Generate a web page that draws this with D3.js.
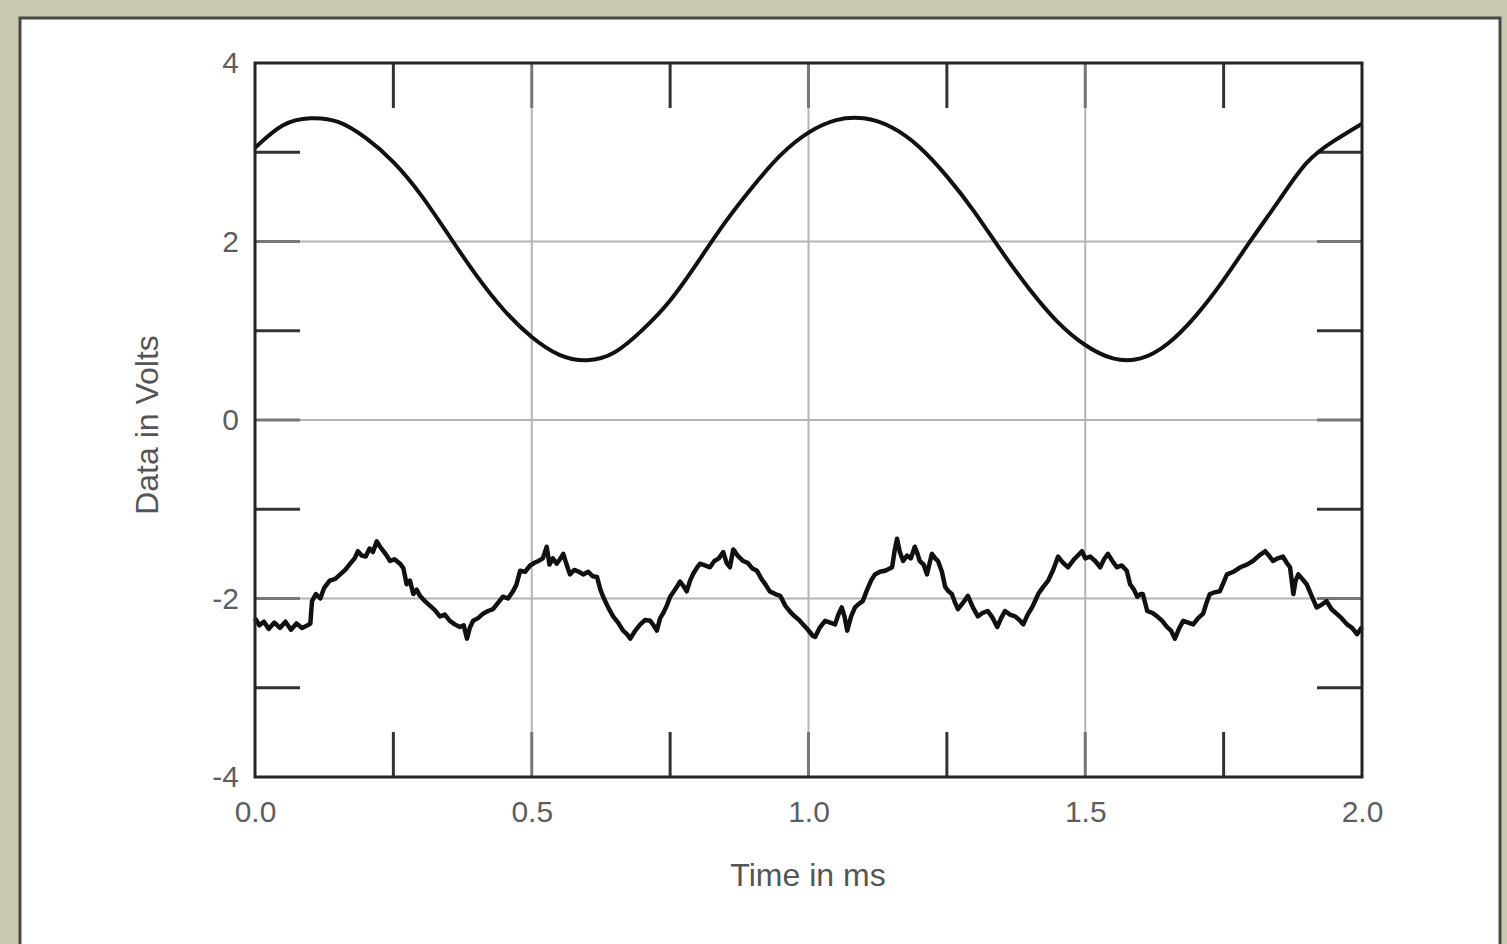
<!DOCTYPE html>
<html>
<head>
<meta charset="utf-8">
<script src="https://cdn.jsdelivr.net/npm/d3@7"></script>
<style>
  html, body { margin: 0; padding: 0; background: #c9c7b0; }
  svg { display: block; }
</style>
</head>
<body>
<div id="chart"></div>
<script>
// axis ticks
var xTicks = [0, 0.5, 1.0, 1.5, 2.0];
var yTicks = [-4, -2, 0, 2, 4];
var xMinor = [0.25, 0.75, 1.25, 1.75];
var yMinor = [-3, -1, 1, 3];

// upper trace (clean sine), read every 0.05 ms
var sineTime = [0, 0.05, 0.1, 0.15, 0.2, 0.25, 0.3, 0.35, 0.4, 0.45, 0.5, 0.55, 0.6, 0.65, 0.7, 0.75, 0.8, 0.85, 0.9, 0.95,
  1.0, 1.05, 1.1, 1.15, 1.2, 1.25, 1.3, 1.35, 1.4, 1.45, 1.5, 1.55, 1.6, 1.65, 1.7, 1.75, 1.8, 1.85, 1.9, 1.95, 2.0];
var sineVolts = [3.05, 3.3, 3.38, 3.34, 3.16, 2.89, 2.52, 2.07, 1.62, 1.23, 0.93, 0.73, 0.67, 0.76, 1.01, 1.34, 1.77, 2.22, 2.62, 2.97,
  3.22, 3.36, 3.38, 3.28, 3.06, 2.73, 2.33, 1.88, 1.46, 1.1, 0.84, 0.69, 0.69, 0.86, 1.17, 1.57, 2.02, 2.46, 2.88, 3.13, 3.32];

// lower trace (noisy)
var noisyTime = [0.000, 0.008, 0.016, 0.025, 0.035, 0.045, 0.055, 0.065, 0.075, 0.085, 0.095, 0.100, 0.103, 0.110, 0.118, 0.125,
  0.135, 0.145, 0.154, 0.163, 0.172, 0.180, 0.186, 0.193, 0.200, 0.207, 0.213, 0.220, 0.226, 0.232, 0.238, 0.244, 0.252, 0.262,
  0.268, 0.274, 0.280, 0.286, 0.292, 0.298, 0.307, 0.316, 0.325, 0.334, 0.343, 0.352, 0.361, 0.370, 0.377, 0.383, 0.388, 0.394,
  0.403, 0.412, 0.421, 0.430, 0.439, 0.448, 0.457, 0.466, 0.472, 0.479, 0.488, 0.497, 0.505, 0.512, 0.520, 0.527, 0.532, 0.538,
  0.545, 0.551, 0.557, 0.563, 0.569, 0.577, 0.585, 0.593, 0.602, 0.610, 0.618, 0.624, 0.629, 0.638, 0.647, 0.656, 0.665, 0.672,
  0.678, 0.687, 0.696, 0.705, 0.714, 0.720, 0.726, 0.732, 0.737, 0.744, 0.750, 0.759, 0.768, 0.774, 0.780, 0.786, 0.792, 0.798,
  0.804, 0.813, 0.822, 0.830, 0.838, 0.846, 0.852, 0.858, 0.864, 0.872, 0.882, 0.890, 0.898, 0.907, 0.915, 0.923, 0.930, 0.940,
  0.949, 0.958, 0.967, 0.975, 0.983, 0.990, 0.999, 1.008, 1.012, 1.020, 1.030, 1.039, 1.048, 1.054, 1.060, 1.065, 1.070, 1.077,
  1.084, 1.091, 1.098, 1.106, 1.113, 1.120, 1.129, 1.138, 1.145, 1.151, 1.156, 1.160, 1.165, 1.171, 1.178, 1.185, 1.192, 1.197,
  1.201, 1.208, 1.214, 1.219, 1.223, 1.229, 1.234, 1.241, 1.247, 1.253, 1.259, 1.265, 1.270, 1.279, 1.288, 1.297, 1.306, 1.315,
  1.324, 1.333, 1.341, 1.348, 1.355, 1.364, 1.373, 1.381, 1.388, 1.396, 1.404, 1.410, 1.415, 1.424, 1.433, 1.442, 1.451, 1.460,
  1.469, 1.480, 1.494, 1.500, 1.509, 1.518, 1.527, 1.534, 1.541, 1.549, 1.557, 1.566, 1.575, 1.581, 1.588, 1.594, 1.600, 1.604,
  1.612, 1.621, 1.630, 1.639, 1.648, 1.655, 1.662, 1.670, 1.677, 1.686, 1.695, 1.704, 1.713, 1.719, 1.725, 1.734, 1.743, 1.750,
  1.756, 1.768, 1.780, 1.792, 1.803, 1.814, 1.825, 1.832, 1.839, 1.848, 1.857, 1.864, 1.870, 1.876, 1.880, 1.885, 1.892, 1.900,
  1.909, 1.918, 1.927, 1.936, 1.945, 1.954, 1.963, 1.973, 1.982, 1.991, 2.000];
var noisyVolts = [-2.22, -2.30, -2.26, -2.34, -2.27, -2.33, -2.26, -2.35, -2.28, -2.33, -2.30, -2.28, -2.03, -1.95, -2.00, -1.88,
  -1.80, -1.78, -1.73, -1.68, -1.61, -1.55, -1.47, -1.52, -1.53, -1.44, -1.48, -1.36, -1.42, -1.47, -1.52, -1.58, -1.56, -1.61,
  -1.66, -1.84, -1.80, -1.95, -1.90, -1.97, -2.03, -2.08, -2.13, -2.20, -2.18, -2.25, -2.29, -2.32, -2.30, -2.45, -2.33, -2.25,
  -2.22, -2.17, -2.14, -2.12, -2.05, -1.98, -2.00, -1.92, -1.85, -1.69, -1.70, -1.63, -1.60, -1.58, -1.55, -1.42, -1.62, -1.55,
  -1.61, -1.56, -1.50, -1.62, -1.73, -1.68, -1.70, -1.73, -1.70, -1.75, -1.76, -1.90, -1.98, -2.10, -2.20, -2.27, -2.36, -2.40,
  -2.45, -2.36, -2.29, -2.24, -2.25, -2.30, -2.36, -2.22, -2.17, -2.08, -1.98, -1.90, -1.81, -1.86, -1.92, -1.80, -1.72, -1.66,
  -1.61, -1.63, -1.65, -1.58, -1.55, -1.48, -1.60, -1.65, -1.45, -1.52, -1.58, -1.60, -1.66, -1.69, -1.78, -1.85, -1.92, -1.95,
  -1.97, -2.08, -2.15, -2.20, -2.24, -2.29, -2.35, -2.42, -2.43, -2.33, -2.25, -2.27, -2.29, -2.18, -2.10, -2.20, -2.36, -2.20,
  -2.10, -2.06, -2.03, -1.90, -1.80, -1.73, -1.70, -1.69, -1.67, -1.65, -1.45, -1.33, -1.48, -1.58, -1.52, -1.55, -1.42, -1.50,
  -1.58, -1.62, -1.73, -1.60, -1.50, -1.55, -1.58, -1.70, -1.87, -1.92, -1.95, -2.05, -2.12, -2.05, -1.97, -2.10, -2.20, -2.16,
  -2.14, -2.22, -2.32, -2.22, -2.14, -2.18, -2.20, -2.24, -2.29, -2.18, -2.10, -2.02, -1.95, -1.87, -1.80, -1.68, -1.53, -1.60,
  -1.65, -1.56, -1.47, -1.55, -1.53, -1.58, -1.65, -1.56, -1.50, -1.58, -1.65, -1.63, -1.69, -1.84, -1.90, -1.98, -1.95, -1.95,
  -2.14, -2.16, -2.20, -2.25, -2.32, -2.36, -2.45, -2.33, -2.25, -2.27, -2.29, -2.22, -2.17, -2.05, -1.95, -1.93, -1.92, -1.82,
  -1.73, -1.70, -1.65, -1.62, -1.58, -1.52, -1.47, -1.52, -1.58, -1.55, -1.53, -1.60, -1.65, -1.95, -1.80, -1.73, -1.78, -1.84,
  -1.97, -2.10, -2.07, -2.03, -2.12, -2.17, -2.22, -2.29, -2.33, -2.40, -2.32];

var W = 1507, H = 944;
var plotL = 255, plotR = 1362, plotT = 63, plotB = 777;

var svg = d3.select("#chart").append("svg")
    .attr("width", W)
    .attr("height", H);

// page background and white panel
svg.append("rect")
    .attr("x", 0).attr("y", 0)
    .attr("width", W).attr("height", H)
    .style("fill", "#c9c7b0");

svg.append("rect")
    .attr("x", 20).attr("y", 18)
    .attr("width", 1480).attr("height", 950)
    .style("fill", "#ffffff")
    .style("stroke", "#4a4a44")
    .style("stroke-width", "3px");

var x = d3.scaleLinear().domain([0, 2]).range([plotL, plotR]);
var y = d3.scaleLinear().domain([-4, 4]).range([plotB, plotT]);

var g = svg.append("g");

// light gridlines at major ticks
g.selectAll(".vgrid")
    .data(xTicks.filter(function(d) { return d > 0 && d < 2; }))
    .enter().append("line")
    .attr("x1", function(d) { return x(d); })
    .attr("x2", function(d) { return x(d); })
    .attr("y1", plotT).attr("y2", plotB)
    .style("stroke", "#b4b4b4")
    .style("stroke-width", "2px");

g.selectAll(".hgrid")
    .data(yTicks.filter(function(d) { return d > -4 && d < 4; }))
    .enter().append("line")
    .attr("x1", plotL).attr("x2", plotR)
    .attr("y1", function(d) { return y(d); })
    .attr("y2", function(d) { return y(d); })
    .style("stroke", "#b4b4b4")
    .style("stroke-width", "2px");

// short dark ticks inside the frame
var tlen = 45;
var allX = xMinor.concat([0.5, 1.0, 1.5]);
var allY = yMinor.concat([-2, 0, 2]);

allX.forEach(function(d) {
    var isMajor = xMinor.indexOf(d) < 0;
    [[plotT, plotT + tlen], [plotB - tlen, plotB]].forEach(function(s) {
        g.append("line")
            .attr("x1", x(d)).attr("x2", x(d))
            .attr("y1", s[0]).attr("y2", s[1])
            .style("stroke", isMajor ? "#777" : "#333")
            .style("stroke-width", "3px");
    });
});

allY.forEach(function(d) {
    var isMajor = yMinor.indexOf(d) < 0;
    [[plotL, plotL + tlen], [plotR - tlen, plotR]].forEach(function(s) {
        g.append("line")
            .attr("x1", s[0]).attr("x2", s[1])
            .attr("y1", y(d)).attr("y2", y(d))
            .style("stroke", isMajor ? "#777" : "#333")
            .style("stroke-width", "3px");
    });
});

// traces
var sineLine = d3.line()
    .x(function(d, i) { return x(sineTime[i]); })
    .y(function(d) { return y(d); })
    .curve(d3.curveNatural);

g.append("path")
    .datum(sineVolts)
    .attr("d", sineLine)
    .style("fill", "none")
    .style("stroke", "#111")
    .style("stroke-width", "4px");

var noisyLine = d3.line()
    .x(function(d, i) { return x(noisyTime[i]); })
    .y(function(d) { return y(d); });

g.append("path")
    .datum(noisyVolts)
    .attr("d", noisyLine)
    .style("fill", "none")
    .style("stroke", "#111")
    .style("stroke-width", "4.5px")
    .style("stroke-linejoin", "round");

// frame
g.append("rect")
    .attr("x", plotL).attr("y", plotT)
    .attr("width", plotR - plotL).attr("height", plotB - plotT)
    .style("fill", "none")
    .style("stroke", "#222")
    .style("stroke-width", "3px");

// axes labels
var xAxis = d3.axisBottom(x)
    .tickValues(xTicks)
    .tickFormat(d3.format(".1f"))
    .tickSize(0)
    .tickPadding(24);

var yAxis = d3.axisLeft(y)
    .tickValues(yTicks)
    .tickFormat(function(d) { return String(d); })
    .tickSize(0)
    .tickPadding(16);

var gx = svg.append("g")
    .attr("transform", "translate(0," + plotB + ")")
    .call(xAxis);
var gy = svg.append("g")
    .attr("transform", "translate(" + plotL + ",0)")
    .call(yAxis);

[gx, gy].forEach(function(a) {
    a.select(".domain").remove();
    a.selectAll("text")
        .style("font-family", "'Liberation Sans', Arial, sans-serif")
        .style("font-size", "30px")
        .style("fill", "#5e5e5e");
});

svg.append("text")
    .attr("x", 808)
    .attr("y", 886)
    .attr("text-anchor", "middle")
    .text("Time in ms")
    .style("font-family", "'Liberation Sans', Arial, sans-serif")
    .style("font-size", "32px")
    .style("fill", "#555");

svg.append("text")
    .attr("transform", "translate(158,425) rotate(-90)")
    .attr("text-anchor", "middle")
    .text("Data in Volts")
    .style("font-family", "'Liberation Sans', Arial, sans-serif")
    .style("font-size", "32px")
    .style("fill", "#555");
</script>
</body>
</html>
